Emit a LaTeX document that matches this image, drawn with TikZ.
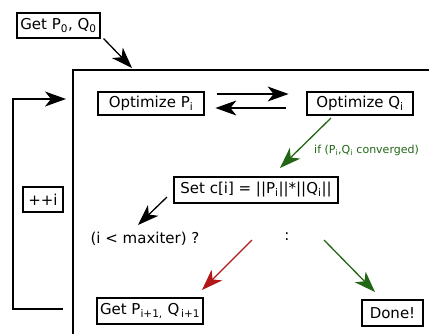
\documentclass[tikz,border=0pt]{standalone}
\usepackage{fontspec}
\setmainfont{DejaVu Sans}
\usetikzlibrary{arrows.meta}
\definecolor{okgreen}{RGB}{34,102,22}
\definecolor{loopred}{RGB}{178,24,24}
\newcommand{\sub}[1]{\textsubscript{#1}}
\tikzset{
  x=1pt, y=-1pt,
  every node/.style={font=\fontsize{15}{17}\selectfont, inner sep=0pt},
  stepbox/.style={draw, line width=1.2pt, align=center},
  flow/.style={line width=1.3pt, -{Stealth[length=21pt,width=15pt,inset=6pt]}},
  frame/.style={line width=1.5pt},
}
\begin{document}
\begin{tikzpicture}
  \useasboundingbox (0,0) rectangle (429,333);

  % outer frame of the iteration
  \coordinate (fbl) at (73,336);
  \coordinate (ftl) at (73,70);
  \coordinate (ftr) at (432,70);
  \draw[frame] (fbl) -- (ftl) -- (ftr);

  % boxes
  \node[stepbox, minimum width=83pt, minimum height=25pt] (get0) at (58.5,25.5) {Get P\sub{0}, Q\sub{0}};
  \node[stepbox, minimum width=106pt, minimum height=23pt] (optP) at (151,103.5) {Optimize P\sub{i}};
  \node[stepbox, minimum width=106pt, minimum height=23pt] (optQ) at (360,103.5) {Optimize Q\sub{i}};
  \node[stepbox, minimum width=164pt, minimum height=26pt] (setc) at (256,190) {Set c[i] = ||P\sub{i}||*||Q\sub{i}||};
  \node[stepbox, minimum width=40pt, minimum height=25pt] (incr) at (43,199.5) {++i};
  \node (cond) at (145,239) {(i < maxiter) ?};
  \node (colon) at (287,237) {:};
  \node[stepbox, minimum width=106pt, minimum height=26pt] (getnext) at (150,311) {Get P\sub{i+1,} Q\sub{\,i+1}};
  \node[stepbox, minimum width=61pt, minimum height=26pt] (done) at (392.5,313) {Done!};

  % entry into the loop
  \coordinate (entry) at (132,68);
  \draw[flow] (get0.south east) ++(3,0) coordinate (g0) -- (entry);

  % alternating optimisation
  \draw[flow] (optP.east |- 0,94) ++(12,0) -- ++(72,0);
  \draw[flow] (optQ.west |- 0,108) ++(-20,0) -- ++(-71,0);

  % convergence
  \coordinate (convA) at (331,118);
  \coordinate (convB) at (280,168);
  \draw[flow, okgreen] (convA) -- (convB);
  \node[okgreen, anchor=west, font=\fontsize{11}{13}\selectfont] (convlbl) at (314,150) {if (P\sub{i},Q\sub{i} converged)};

  % test on the iteration count
  \coordinate (setA) at (167,197);
  \coordinate (condB) at (138,225);
  \draw[flow] (setA) -- (condB);

  \coordinate (redA) at (252,240);
  \coordinate (redB) at (202,290);
  \draw[flow, loopred] (redA) -- (redB);

  \coordinate (grA) at (324,240);
  \coordinate (grB) at (375,292);
  \draw[flow, okgreen] (grA) -- (grB);

  % back edge with the increment
  \coordinate (backA) at (63,309);
  \coordinate (backB) at (13,309);
  \coordinate (backC) at (13,99);
  \coordinate (backD) at (66,99);
  \draw[flow] (backA) -- (backB) -- (backC) -- (backD);
\end{tikzpicture}
\end{document}
